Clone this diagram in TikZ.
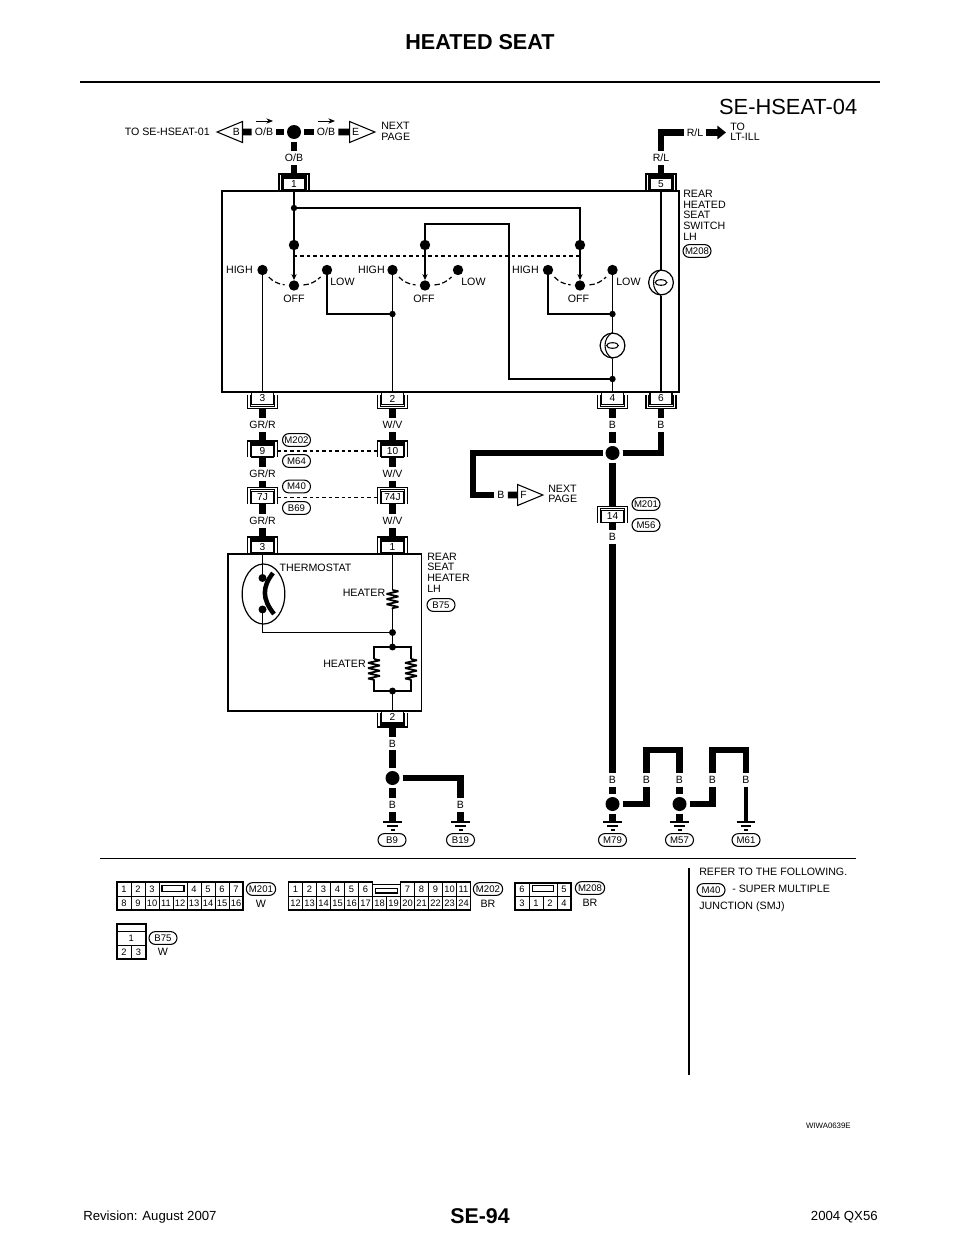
\documentclass[tikz,border=0pt]{standalone}
\usepackage{fontspec}
\setmainfont{Liberation Sans}
\usetikzlibrary{arrows.meta,shapes.geometric,shapes.misc,decorations.pathmorphing}
\tikzset{
  wire/.style={line width=1.35pt},
  bus/.style={line width=4.9pt},
  link/.style={line width=1.1pt,dash pattern=on 2.6pt off 2.2pt},
  swing/.style={line width=.9pt,dash pattern=on 4pt off 2pt,shorten <=3pt,shorten >=3pt},
  feed/.style={wire,-{Stealth[length=4.5pt,width=4pt]}},
  coil/.style={wire,line join=bevel,decorate,decoration={zigzag,amplitude=4.4pt,segment length=3.9pt}},
  unit/.style={line width=1.3pt},
  jack/.style={draw,fill=white,line width=.8pt,minimum width=16.5pt,minimum height=9pt,inner sep=0pt,font=\fontsize{7.6}{8}\selectfont},
  jackcap/.style={minimum width=22.5pt,inner sep=0pt,outer sep=0pt},
  jackline/.style={line width=.8pt},
  cable/.style={inner sep=2.25pt,font=\fontsize{7.9}{8}\selectfont},
  caption/.style={inner sep=0pt,font=\fontsize{8}{8}\selectfont},
  note/.style={caption,align=left,anchor=north west},
  bigdot/.style={circle,fill=black,minimum size=10.5pt,inner sep=0pt,outer sep=2.25pt},
  swdot/.style={circle,fill=black,minimum size=7.8pt,inner sep=0pt},
  tinydot/.style={circle,fill=black,minimum size=4.8pt,inner sep=0pt},
  tag/.style={draw,rounded rectangle,line width=.8pt,minimum width=21pt,minimum height=9.6pt,inner sep=0pt,font=\fontsize{7.2}{8}\selectfont},
  flag/.style={draw,isosceles triangle,isosceles triangle stretches,line width=.8pt,minimum width=15.75pt,minimum height=19pt,inner sep=0pt,anchor=lower side,font=\fontsize{7.8}{8}\selectfont},
  lampbox/.style={draw,circle,fill=white,line width=.9pt,minimum size=18.6pt,inner sep=0pt},
  cellbox/.style={draw,line width=.6pt,minimum width=10.5pt,minimum height=10.5pt,inner sep=0pt,font=\fontsize{7}{8}\selectfont},
  notch/.style={draw,line width=.9pt,minimum height=4.8pt,inner sep=0pt},
  frame/.style={line width=1.2pt}
}
\begin{document}
\begin{tikzpicture}[x=0.75pt,y=-0.75pt]
\useasboundingbox (0,0) rectangle (960,1242);
% Connector with the bracket on top, connector with the bracket below
\def\jackup#1#2#3{\node[jack] (#1) at (#2) {#3};
  \node[jackcap,minimum height=12pt] (#1o) at ([yshift=1.5pt]#1) {};
  \draw[jackline] (#1o.south west) |- (#1o.north east) -- (#1o.south east);
  \draw[jackline] ([xshift=2.2pt]#1o.south west) |- ([xshift=-2.2pt,yshift=-1.5pt]#1o.north east) -- ([xshift=-2.2pt]#1o.south east);}
\def\jackdown#1#2#3{\node[jack] (#1) at (#2) {#3};
  \node[jackcap,minimum height=10.5pt] (#1o) at ([yshift=-2.25pt]#1) {};
  \draw[jackline] (#1o.north west) |- (#1o.south east) -- (#1o.north east);
  \draw[jackline] ([xshift=2.2pt]#1o.north west) |- ([xshift=-2.2pt,yshift=1.5pt]#1o.south east) -- ([xshift=-2.2pt]#1o.north east);}
% Ground symbol and lamp symbol
\def\earth#1#2{\coordinate (#1) at (#2);
  \draw[line width=.9pt] ([xshift=-7pt]#1) -- ([xshift=7pt]#1);
  \draw[line width=.9pt] ([xshift=-4pt,yshift=-3pt]#1) -- ([xshift=4pt,yshift=-3pt]#1);
  \draw[line width=.9pt] ([xshift=-1.5pt,yshift=-6pt]#1) -- ([xshift=1.5pt,yshift=-6pt]#1);}
\def\lamp#1#2{\node[lampbox] (#1) at (#2) {};
  \draw[line width=.8pt] (#1.north) .. controls ([xshift=-7.5pt,yshift=-4pt]#1.north) and ([xshift=-7.5pt,yshift=4pt]#1.south) .. (#1.south);
  \draw[line width=.8pt] (#1.center) ellipse (4.4pt and 2.1pt);}

% Page head and foot
\node[font=\fontsize{16.2}{18}\selectfont\bfseries] (pagetitle) at (480,42.5) {HEATED SEAT};
\draw[line width=2.2pt] (80,82) -- (880,82);
\node[font=\fontsize{16.4}{18}\selectfont,anchor=east,inner sep=0pt] (sheetname) at (857.5,106.5) {SE-HSEAT-04};
\node[font=\fontsize{16}{18}\selectfont\bfseries] (pagenumber) at (480,1216) {SE-94};
\node[font=\fontsize{9.9}{12}\selectfont,anchor=west,inner sep=0pt] (revision) at (83,1217) {Revision: August 2007};
\node[font=\fontsize{9.9}{12}\selectfont,anchor=east,inner sep=0pt] (model) at (878,1217) {2004 QX56};
\node[font=\fontsize{5.9}{6}\selectfont,anchor=east,inner sep=0pt] (drawingno) at (851,1125.5) {WIWA0639E};

% Top row
\node[caption,anchor=east] (toHseat) at (210,132) {TO SE-HSEAT-01};
\node[flag,shape border rotate=180] (flagB) at (243,132) {B};
\node[cable] (wOBa) at (264,132) {O/B};
\node[bigdot] (dotTop) at (294,132) {};
\node[cable] (wOBb) at (326,132) {O/B};
\node[flag] (flagE) at (349,132) {E};
\node[note] (nextE) at (381,122) {NEXT\\PAGE};
\node[cable] (wOBc) at (294,158) {O/B};
\draw[bus] (wOBa) -- (flagB);
\draw[bus] (wOBa) -- (dotTop);
\draw[bus] (dotTop) -- (wOBb);
\draw[bus] (wOBb) -- (flagE);
\draw[bus] (dotTop) -- (wOBc);
\draw[line width=.7pt,-{Stealth[length=5pt,width=4pt]}] (256,121) -- (273,121);
\draw[line width=.7pt,-{Stealth[length=5pt,width=4pt]}] (318,121) -- (335,121);
\node[cable] (wRLa) at (661,158) {R/L};
\node[cable] (wRLb) at (695,132.5) {R/L};
\node[note] (toIll) at (730,122.5) {TO\\LT-ILL};
\draw[bus] (wRLa) |- (wRLb);
\draw[bus,shorten >=3pt,-{Triangle[length=6.5pt,width=10pt]}] (wRLb) -- (wRLb -| toIll.west);

% Rear heated seat switch
\draw[unit] (222,191) rectangle (679,392);
\node[note] (switchname) at (683,190) {REAR\\HEATED\\SEAT\\SWITCH\\LH};
\node[tag] (tagMb) at (697,251) {M208};
\jackup{jackA}{294,184}{1}
\jackup{jackB}{661,184}{5}
\jackdown{jackC}{262.5,398.5}{3}
\jackdown{jackD}{392.5,398.5}{2}
\jackdown{jackE}{612.5,398.5}{4}
\jackdown{jackF}{661,398.5}{6}
\draw[bus] (wOBc) -- (jackAo);
\draw[bus] (wRLa) -- (jackBo);
\node[tinydot] (joinA) at (294,208) {};
\node[swdot] (armA) at (294,245) {};
\node[swdot] (armB) at (425,245) {};
\node[swdot] (armC) at (580,245) {};
\node[swdot] (highA) at (262.5,270) {};
\node[swdot] (lowA) at (327,270) {};
\node[swdot] (offA) at (294,285.5) {};
\node[swdot] (highB) at (392.5,270) {};
\node[swdot] (lowB) at (458,270) {};
\node[swdot] (offB) at (425,285.5) {};
\node[swdot] (highC) at (548,270) {};
\node[swdot] (lowC) at (612.5,270) {};
\node[swdot] (offC) at (580,285.5) {};
\node[tinydot] (joinB) at (392.5,314) {};
\node[tinydot] (joinC) at (612.5,314) {};
\node[tinydot] (joinD) at (612.5,379) {};
\coordinate (kneeA) at (509,224);
\coordinate (kneeB) at (327,314);
\coordinate (kneeC) at (548,314);
\coordinate (linkA) at (294,256);
\coordinate (linkB) at (580,256);
\lamp{lampA}{612.5,345.5}
\lamp{lampB}{661,282.5}
\draw[wire] (jackA) -- (joinA.center) -- (armA.center);
\draw[wire] (joinA.center) -| (armC.center);
\draw[wire] (armB.center) |- (kneeA) |- (joinD.center);
\draw[feed] (armA) -- (offA);
\draw[feed] (armB) -- (offB);
\draw[feed] (armC) -- (offC);
\draw[link] (linkA) -- (linkB);
\draw[swing] (highA) to[bend right=22] (offA);
\draw[swing] (offA) to[bend right=22] (lowA);
\draw[swing] (highB) to[bend right=22] (offB);
\draw[swing] (offB) to[bend right=22] (lowB);
\draw[swing] (highC) to[bend right=22] (offC);
\draw[swing] (offC) to[bend right=22] (lowC);
\draw[wire] (highA.center) -- (jackC);
\draw[wire] (highB.center) -- (jackD);
\draw[wire] (lowA.center) -- (kneeB) -- (joinB.center);
\draw[wire] (highC.center) -- (kneeC) -- (joinC.center);
\draw[wire] (lowC.center) -- (lampA);
\draw[wire] (lampA) -- (joinD.center) -- (jackE);
\draw[wire] (jackB) -- (lampB);
\draw[wire] (lampB) -- (jackF);
\node[caption,anchor=east] (highAt) at (253,270) {HIGH};
\node[caption,anchor=east] (highBt) at (385,270) {HIGH};
\node[caption,anchor=east] (highCt) at (539,270) {HIGH};
\node[caption,anchor=west] (lowAt) at (330,282) {LOW};
\node[caption,anchor=west] (lowBt) at (461,282) {LOW};
\node[caption,anchor=west] (lowCt) at (616,282) {LOW};
\node[caption] (offAt) at (294,298.5) {OFF};
\node[caption] (offBt) at (424,298.5) {OFF};
\node[caption] (offCt) at (578.5,298.5) {OFF};

% Harness between switch and heater
\node[cable] (wGRa) at (262.5,425) {GR/R};
\node[cable] (wWVa) at (392.5,425) {W/V};
\jackup{jackG}{262.5,451}{9}
\jackup{jackH}{392.5,451}{10}
\node[cable] (wGRb) at (262.5,474) {GR/R};
\node[cable] (wWVb) at (392.5,474) {W/V};
\jackup{jackI}{262.5,497.5}{7J}
\jackup{jackJ}{392.5,497.5}{74J}
\node[cable] (wGRc) at (262.5,521) {GR/R};
\node[cable] (wWVc) at (392.5,521) {W/V};
\jackup{jackK}{262.5,547}{3}
\jackup{jackL}{392.5,547}{1}
\node[tag] (tagMc) at (296.5,440) {M202};
\node[tag] (tagMd) at (296.5,461) {M64};
\node[tag] (tagMe) at (296.5,486.5) {M40};
\node[tag] (tagBa) at (296.5,508) {B69};
\draw[bus] (jackCo) -- (wGRa);
\draw[bus] (wGRa) -- (jackGo);
\draw[bus] (jackG) -- (wGRb);
\draw[bus] (wGRb) -- (jackIo);
\draw[bus] (jackI) -- (wGRc);
\draw[bus] (wGRc) -- (jackKo);
\draw[bus] (jackDo) -- (wWVa);
\draw[bus] (wWVa) -- (jackHo);
\draw[bus] (jackH) -- (wWVb);
\draw[bus] (wWVb) -- (jackJo);
\draw[bus] (jackJ) -- (wWVc);
\draw[bus] (wWVc) -- (jackLo);
\draw[link] (jackG -| jackGo.east) -- (jackH -| jackHo.west);
\draw[link] (jackI -| jackIo.east) -- (jackJ -| jackJo.west);

% Rear seat heater
\draw[unit] (228,554) rectangle (421.5,711);
\node[note] (heatername) at (427,552.5) {REAR\\SEAT\\HEATER\\LH};
\node[tag] (tagBb) at (441,605) {B75};
\jackdown{jackM}{392.5,717}{2}
\node[draw,ellipse,line width=.9pt,minimum width=32pt,minimum height=45pt,inner sep=0pt] (thermostat) at (263.5,594) {};
\node[swdot,minimum size=6pt] (thermoA) at (262.5,578) {};
\node[swdot,minimum size=6pt] (thermoB) at (262.5,609.5) {};
\draw[line width=3.4pt] (273,573) .. controls (262,587) and (262,599) .. (274,614);
\node[caption] (thermostatt) at (315.5,568) {THERMOSTAT};
\coordinate (heatA) at (392.5,590);
\coordinate (heatB) at (392.5,609);
\coordinate (heatC) at (374,659);
\coordinate (heatD) at (374,680);
\coordinate (heatE) at (411,659);
\coordinate (heatF) at (411,680);
\coordinate (kneeD) at (374,647);
\coordinate (kneeE) at (374,691);
\coordinate (kneeF) at (411,647);
\coordinate (kneeG) at (411,691);
\node[tinydot,minimum size=5.2pt] (joinE) at (392.5,632.5) {};
\node[tinydot,minimum size=5.2pt] (joinF) at (392.5,647) {};
\node[tinydot,minimum size=5.2pt] (joinG) at (392.5,691) {};
\draw[wire] (jackK) -- (thermoA.center);
\draw[wire] (thermoB.center) |- (joinE.center);
\draw[wire] (jackL) -- (heatA);
\draw[coil] (heatA) -- (heatB);
\draw[wire] (heatB) -- (joinE.center) -- (joinF.center);
\draw[wire] (heatC) -- (kneeD) -- (kneeF) -- (heatE);
\draw[wire] (heatD) -- (kneeE) -- (kneeG) -- (heatF);
\draw[coil] (heatC) -- (heatD);
\draw[coil] (heatE) -- (heatF);
\draw[wire] (joinG.center) -- (jackM);
\node[caption,anchor=east] (heaterA) at (385.5,593) {HEATER};
\node[caption,anchor=east] (heaterB) at (366,664) {HEATER};

% Grounds under the heater
\node[cable] (wBa) at (392.5,743.5) {B};
\node[bigdot] (dotB) at (392.5,778) {};
\node[cable] (wBb) at (392.5,805) {B};
\node[cable] (wBc) at (460.5,805) {B};
\earth{gndBa}{392.5,822}
\earth{gndBb}{460.5,822}
\node[tag] (tagBc) at (392,840) {B9};
\node[tag] (tagBd) at (460.5,840) {B19};
\draw[bus] (jackMo) -- (wBa);
\draw[bus] (wBa) -- (dotB);
\draw[bus] (dotB) -- (wBb);
\draw[bus] (wBb) -- (gndBa);
\draw[bus] (dotB) -| (wBc);
\draw[bus] (wBc) -- (gndBb);

% Right hand ground run
\node[cable] (wBd) at (612.5,425) {B};
\node[cable] (wBe) at (661,425) {B};
\node[bigdot] (dotN) at (612.5,453) {};
\coordinate (kneeH) at (473,495);
\node[cable] (wBf) at (501,495) {B};
\node[flag] (flagF) at (517,495) {F};
\node[note] (nextF) at (548,484.5) {NEXT\\PAGE};
\jackup{jackN}{612.5,516.5}{14}
\node[tag] (tagMf) at (646,504) {M201};
\node[tag] (tagMg) at (646,525) {M56};
\node[cable] (wBg) at (612.5,537) {B};
\draw[bus] (jackEo) -- (wBd);
\draw[bus] (jackFo) -- (wBe);
\draw[bus] (wBd) -- (dotN);
\draw[bus] (dotN) -| (wBe);
\draw[bus] (dotN) -| (kneeH) -- (wBf);
\draw[bus] (wBf) -- (flagF);
\draw[bus] (dotN) -- (jackNo);
\draw[bus] (jackN) -- (wBg);
\node[cable] (wBh) at (612.5,780) {B};
\node[cable] (wBi) at (646.5,780) {B};
\node[cable] (wBj) at (679.5,780) {B};
\node[cable] (wBk) at (712.5,780) {B};
\node[cable] (wBl) at (746,780) {B};
\node[bigdot] (dotMa) at (612.5,804) {};
\node[bigdot] (dotMb) at (679.5,804) {};
\coordinate (kneeJ) at (646.5,750);
\coordinate (kneeK) at (679.5,750);
\coordinate (kneeL) at (712.5,750);
\coordinate (kneeM) at (746,750);
\earth{gndMa}{612.5,822}
\earth{gndMb}{679.5,822}
\earth{gndMc}{746,822}
\node[tag] (tagMh) at (612.5,840) {M79};
\node[tag] (tagMi) at (679.5,840) {M57};
\node[tag] (tagMj) at (746,840) {M61};
\draw[bus] (wBg) -- (wBh);
\draw[bus] (wBh) -- (dotMa);
\draw[bus] (dotMa) -- (gndMa);
\draw[bus] (dotMa) -| (wBi);
\draw[bus] (wBi) -- (kneeJ) -- (kneeK) -- (wBj);
\draw[bus] (wBj) -- (dotMb);
\draw[bus] (dotMb) -- (gndMb);
\draw[bus] (dotMb) -| (wBk);
\draw[bus] (wBk) -- (kneeL) -- (kneeM) -- (wBl);
\draw[line width=3pt] (wBl) -- (gndMc);

% Connector faces
\draw[line width=1.4pt] (100,858.5) -- (856,858.5);
\draw[line width=1.4pt] (689,868) -- (689,1075);
\node[cellbox] (a1) at (124,889) {1};
\node[cellbox] (a2) at (138,889) {2};
\node[cellbox] (a3) at (152,889) {3};
\node[cellbox,minimum width=21pt] (aN) at (173,889) {};
\node[notch,minimum width=16.5pt] (aNi) at (173,888.5) {};
\node[cellbox] (a4) at (194,889) {4};
\node[cellbox] (a5) at (208,889) {5};
\node[cellbox] (a6) at (222,889) {6};
\node[cellbox] (a7) at (236,889) {7};
\node[cellbox] (a8) at (124,903) {8};
\node[cellbox] (a9) at (138,903) {9};
\node[cellbox] (a10) at (152,903) {10};
\node[cellbox] (a11) at (166,903) {11};
\node[cellbox] (a12) at (180,903) {12};
\node[cellbox] (a13) at (194,903) {13};
\node[cellbox] (a14) at (208,903) {14};
\node[cellbox] (a15) at (222,903) {15};
\node[cellbox] (a16) at (236,903) {16};
\draw[frame] (117,882) rectangle (243,910);
\node[tag,minimum width=22pt] (tagFa) at (261,889) {M201};
\node[caption] (colFa) at (261,904) {W};
\node[cellbox] (b1) at (295.5,889) {1};
\node[cellbox] (b2) at (309.5,889) {2};
\node[cellbox] (b3) at (323.5,889) {3};
\node[cellbox] (b4) at (337.5,889) {4};
\node[cellbox] (b5) at (351.5,889) {5};
\node[cellbox] (b6) at (365.5,889) {6};
\node[notch,minimum width=16.5pt,minimum height=3.6pt] (bNi) at (386.5,890.5) {};
\node[cellbox] (b7) at (407.5,889) {7};
\node[cellbox] (b8) at (421.5,889) {8};
\node[cellbox] (b9) at (435.5,889) {9};
\node[cellbox] (b10) at (449.5,889) {10};
\node[cellbox] (b11) at (463.5,889) {11};
\node[cellbox] (b12) at (295.5,903) {12};
\node[cellbox] (b13) at (309.5,903) {13};
\node[cellbox] (b14) at (323.5,903) {14};
\node[cellbox] (b15) at (337.5,903) {15};
\node[cellbox] (b16) at (351.5,903) {16};
\node[cellbox] (b17) at (365.5,903) {17};
\node[cellbox] (b18) at (379.5,903) {18};
\node[cellbox] (b19) at (393.5,903) {19};
\node[cellbox] (b20) at (407.5,903) {20};
\node[cellbox] (b21) at (421.5,903) {21};
\node[cellbox] (b22) at (435.5,903) {22};
\node[cellbox] (b23) at (449.5,903) {23};
\node[cellbox] (b24) at (463.5,903) {24};
\draw[frame] (288.5,882) -- (372.5,882) -- (372.5,884.5) -- (400.5,884.5) -- (400.5,882) -- (470.5,882) -- (470.5,910) -- (288.5,910) -- cycle;
\node[tag,minimum width=22pt] (tagFb) at (488,889) {M202};
\node[caption] (colFb) at (488,904) {BR};
\node[cellbox] (c6) at (522,889.5) {6};
\node[cellbox,minimum width=21pt] (cN) at (543,889.5) {};
\node[notch,minimum width=16pt] (cNi) at (543,888.5) {};
\node[cellbox] (c5) at (564,889.5) {5};
\node[cellbox] (c3) at (522,903) {3};
\node[cellbox] (c1) at (536,903) {1};
\node[cellbox] (c2) at (550,903) {2};
\node[cellbox] (c4) at (564,903) {4};
\draw[frame] (515,883) rectangle (571,910);
\node[tag,minimum width=22pt] (tagFc) at (590,888) {M208};
\node[caption] (colFc) at (590,903) {BR};
\node[cellbox,minimum width=21.75pt,minimum height=5.25pt] (dT) at (131.2,927.5) {};
\node[cellbox,minimum width=21.75pt] (d1) at (131.2,938) {1};
\node[cellbox] (d2) at (124,952) {2};
\node[cellbox] (d3) at (138.5,952) {3};
\draw[frame] (116.7,924) rectangle (145.7,959);
\node[tag] (tagFd) at (163,938) {B75};
\node[caption] (colFd) at (163,952) {W};

% Reference note
\node[caption,anchor=west] (refer) at (699,872) {REFER TO THE FOLLOWING.};
\node[tag] (tagFe) at (711,890) {M40};
\node[caption,anchor=west] (smjA) at (732,889) {- SUPER MULTIPLE};
\node[caption,anchor=west] (smjB) at (699,907) {JUNCTION (SMJ)};
\end{tikzpicture}
\end{document}
